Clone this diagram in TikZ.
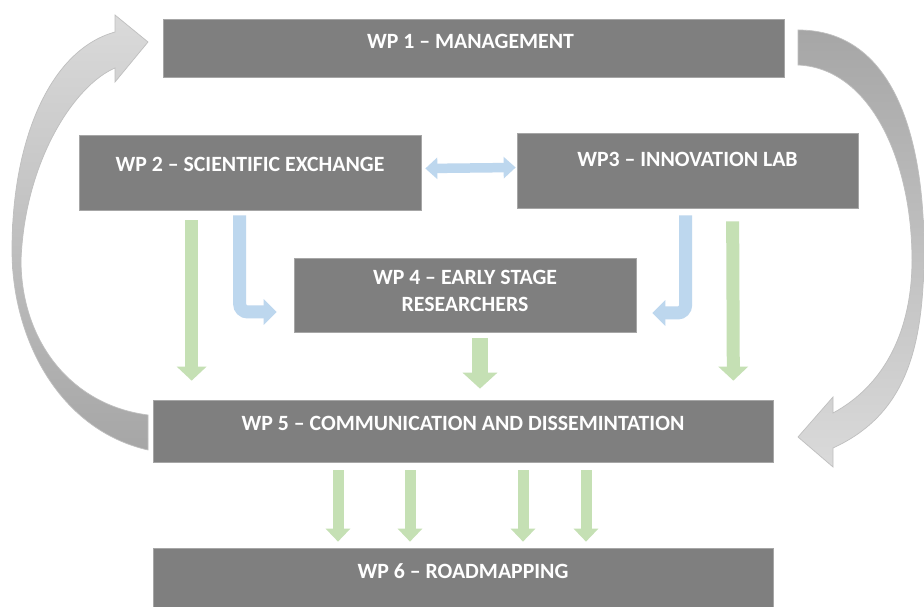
\documentclass[tikz,border=0pt]{standalone}
\usepackage{fontspec}
\setmainfont{Carlito}
\usetikzlibrary{arrows.meta}
\usetikzlibrary{fit}
\usetikzlibrary{calc}

\definecolor{wpgray}{HTML}{7F7F7F}
\definecolor{wpedge}{HTML}{A6A6A6}
\definecolor{flowgreen}{HTML}{C5E0B4}
\definecolor{flowblue}{HTML}{BDD7EE}
\definecolor{arcdark}{HTML}{A6A6A6}
\definecolor{arclight}{HTML}{DADADA}
\definecolor{arcedge}{HTML}{BFBFBF}

\begin{document}
\begin{tikzpicture}[x=0.02cm,y=-0.02cm,
  wpbox/.style={draw=wpedge,fill=wpgray,line width=0.4pt,inner sep=0pt},
  wptext/.style={text=white,font=\bfseries\fontsize{12.4}{15.3}\selectfont,align=center},
  greenarr/.style={draw=flowgreen,line width=0.26cm,-{Triangle[width=0.58cm,length=0.28cm]}},
  widearr/.style={draw=flowgreen,line width=0.32cm,-{Triangle[width=0.68cm,length=0.32cm]}},
  smallarr/.style={draw=flowgreen,line width=0.22cm,-{Triangle[width=0.48cm,length=0.26cm]}},
  bluearr/.style={draw=flowblue,line width=0.26cm,rounded corners=0.16cm,-{Triangle[width=0.5cm,length=0.26cm]}},
  botharr/.style={draw=flowblue,line width=0.19cm,{Triangle[width=0.42cm,length=0.24cm]}-{Triangle[width=0.42cm,length=0.24cm]}},
  looparc/.style={draw=arcedge,line width=0.4pt}]
  \fill[white] (0,0) rectangle (924,607);
  \useasboundingbox (0,0) rectangle (924,607);

  \shade[looparc,top color=arclight,bottom color=arcdark]
    (148,450) .. controls (60,430) and (12,340) .. (12,250)
    .. controls (12,140) and (50,50) .. (115,32)
    -- (115,15) -- (148,42) -- (115,82) -- (115,68)
    .. controls (75,85) and (25,160) .. (21,260)
    .. controls (21,340) and (70,405) .. (148,415) -- cycle;
  \shade[looparc,top color=arcdark,bottom color=arclight]
    (798,30) .. controls (895,30) and (924,140) .. (924,250)
    .. controls (924,350) and (905,415) .. (833,448)
    -- (833,467) -- (798,437) -- (833,397) -- (833,413)
    .. controls (885,385) and (912,330) .. (912,260)
    .. controls (912,160) and (870,68) .. (798,65) -- cycle;

  \node[wpbox,fit={(163,19) (784,77)}] (wp1) {};
  \node[wpbox,fit={(79,135) (421,210)}] (wp2) {};
  \node[wpbox,fit={(517,133) (858,208)}] (wp3) {};
  \node[wpbox,fit={(294,258) (636,332)}] (wp4) {};
  \node[wpbox,fit={(153,400) (773,462)}] (wp5) {};
  \node[wpbox,fit={(153,548) (773,607)}] (wp6) {};

  \node[wptext] (wp1text) at ($(wp1.north)+(-3,23)$) {WP 1 -- MANAGEMENT};
  \node[wptext] (wp2text) at ($(wp2.north)+(0,30)$) {WP 2 -- SCIENTIFIC EXCHANGE};
  \node[wptext] (wp3text) at ($(wp3.north)+(0,27)$) {WP3 -- INNOVATION LAB};
  \node[wptext] (wp4text) at ($(wp4.north)+(0,33)$) {WP 4 -- EARLY STAGE\\RESEARCHERS};
  \node[wptext] (wp5text) at ($(wp5.north)+(0,24)$) {WP 5 -- COMMUNICATION AND DISSEMINTATION};
  \node[wptext] (wp6text) at ($(wp6.north)+(0,23)$) {WP 6 -- ROADMAPPING};

  \draw[botharr] ($(wp2.east)+(4,-4)$) -- ($(wp3.west)+(-1,-3)$);
  \draw[bluearr] ($(wp2.south west)+(161,5)$) |- ($(wp4.west)+(-17,17)$);
  \draw[bluearr] ($(wp3.south west)+(169,7)$) |- ($(wp4.east)+(16,18)$);

  \draw[greenarr] ($(wp2.south west)+(113,10)$) -- ($(wp5.north west)+(39,-19)$);
  \draw[greenarr] ($(wp3.south west)+(216,13)$) -- ($(wp5.north east)+(-40,-19)$);
  \draw[widearr] ($(wp4.south)+(15,6)$) -- ($(wp5.north)+(17,-11)$);
  \foreach \dx in {-125,-53,60,123}
    \draw[smallarr] ($(wp5.south)+(\dx,8)$) -- ($(wp6.north)+(\dx,-6)$);
\end{tikzpicture}
\end{document}
